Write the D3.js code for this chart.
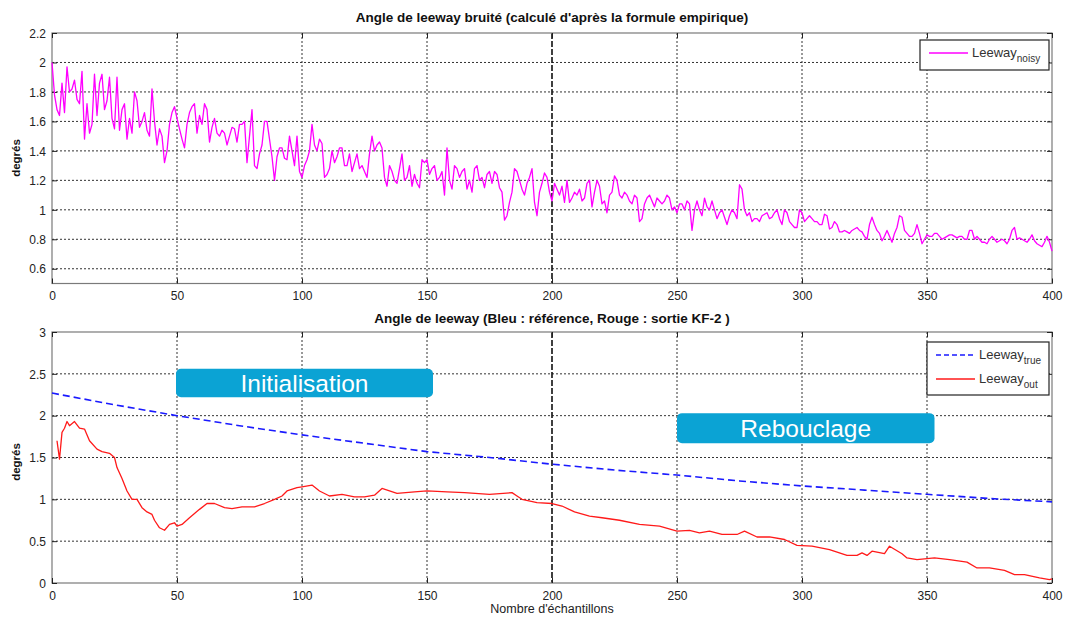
<!DOCTYPE html>
<html><head><meta charset="utf-8">
<script src="https://cdn.jsdelivr.net/npm/d3@7"></script>
<style>
html,body{margin:0;padding:0;background:#fff;}
text{font-family:"Liberation Sans",Arial,sans-serif;}
</style></head>
<body><svg id="c" width="1069" height="618"></svg>
<script>
// ---------- DATA ----------
const xTicks = [0, 50, 100, 150, 200, 250, 300, 350, 400];
const topYTicks = [0.6, 0.8, 1, 1.2, 1.4, 1.6, 1.8, 2, 2.2];
const botYTicks = [0, 0.5, 1, 1.5, 2, 2.5, 3];

// noisy leeway, one value per sample (0..400)
const noisyStep = 1;
const noisyY = [
2.00,1.78,1.68,1.64,1.86,1.66,1.97,1.80,1.82,1.88,1.75,1.72,1.94,1.48,1.72,1.52,1.58,1.92,1.64,1.86,
1.92,1.68,1.74,1.90,1.62,1.55,1.90,1.54,1.68,1.72,1.48,1.62,1.52,1.80,1.74,1.56,1.60,1.66,1.54,1.50,
1.82,1.60,1.44,1.55,1.50,1.32,1.40,1.58,1.66,1.70,1.62,1.55,1.48,1.42,1.58,1.66,1.70,1.72,1.52,1.64,
1.58,1.72,1.68,1.46,1.56,1.62,1.52,1.50,1.54,1.52,1.44,1.50,1.56,1.55,1.46,1.58,1.58,1.60,1.32,1.50,
1.68,1.30,1.28,1.38,1.44,1.60,1.60,1.48,1.36,1.20,1.36,1.42,1.42,1.35,1.34,1.50,1.40,1.30,1.50,1.26,
1.22,1.30,1.34,1.40,1.58,1.44,1.40,1.48,1.45,1.22,1.24,1.28,1.40,1.32,1.36,1.42,1.42,1.30,1.30,1.38,
1.26,1.32,1.38,1.28,1.30,1.26,1.22,1.38,1.50,1.40,1.44,1.46,1.42,1.22,1.16,1.30,1.26,1.20,1.18,1.28,
1.38,1.20,1.22,1.30,1.16,1.24,1.18,1.15,1.34,1.32,1.34,1.24,1.28,1.30,1.20,1.22,1.26,1.10,1.42,1.20,
1.14,1.30,1.28,1.22,1.26,1.28,1.14,1.20,1.12,1.28,1.30,1.20,1.22,1.15,1.24,1.26,1.18,1.26,1.24,1.15,
1.12,0.93,0.96,1.05,1.12,1.28,1.26,1.20,1.14,1.10,1.18,1.22,1.28,1.05,0.96,1.12,1.18,1.25,1.22,1.12,
1.06,1.18,1.14,1.10,1.16,1.05,1.20,1.05,1.08,1.12,1.10,1.14,1.06,1.08,1.18,1.20,1.02,1.12,1.20,1.16,
1.04,1.06,0.98,1.10,1.12,1.23,1.20,1.10,1.08,1.12,1.10,1.06,1.04,1.10,1.08,0.92,0.94,1.04,1.08,1.10,
1.06,1.02,1.08,1.06,1.04,1.06,1.10,1.08,1.00,1.02,0.98,1.04,1.04,1.00,1.06,1.04,0.86,1.00,1.06,1.00,
0.96,1.08,1.02,1.00,1.06,1.00,0.94,0.98,1.00,0.95,0.90,0.96,1.00,0.98,0.94,1.17,1.14,1.00,0.96,0.98,
0.92,0.94,0.94,0.92,0.96,0.97,0.98,0.94,0.95,0.98,1.00,0.94,0.90,1.00,0.98,0.92,0.90,0.88,0.88,1.00,
0.98,0.92,0.94,0.96,0.94,0.92,0.92,0.90,0.90,0.97,0.96,0.87,0.88,0.92,0.90,0.85,0.85,0.86,0.85,0.84,
0.86,0.87,0.88,0.86,0.85,0.82,0.80,0.90,0.95,0.90,0.86,0.84,0.79,0.82,0.86,0.82,0.78,0.84,0.88,0.96,
0.95,0.86,0.84,0.82,0.82,0.84,0.90,0.84,0.77,0.80,0.83,0.82,0.82,0.84,0.84,0.82,0.80,0.81,0.82,0.83,
0.83,0.82,0.81,0.82,0.82,0.80,0.80,0.86,0.86,0.80,0.82,0.80,0.78,0.78,0.77,0.80,0.82,0.80,0.78,0.79,
0.80,0.79,0.77,0.80,0.86,0.88,0.80,0.81,0.80,0.79,0.78,0.80,0.83,0.79,0.77,0.76,0.75,0.78,0.82,0.78,
0.72];

// reference leeway (blue, dashed)
const trueX = [0,25,50,75,100,125,150,175,200,225,250,275,300,325,350,375,400];
const trueY = [2.27,2.13,2.00,1.88,1.77,1.67,1.57,1.50,1.42,1.35,1.29,1.22,1.16,1.11,1.06,1.01,0.97];

// KF-2 output (red)
const outX = [2,3,4,5,6,7,9,11,13,15,18,20,23,25,26,28,30,32,34,36,38,40,41,43,45,47,49,50,52,55,59,62,65,69,72,76,81,85,89,92,94,98,100,104,107,111,116,121,125,129,132,135,138,145,150,158,165,175,184,186,188,194,200,204,209,215,220,227,235,243,250,255,259,263,268,274,277,282,287,293,298,304,311,318,322,324,326,328,333,335,340,342,346,353,359,366,370,375,381,385,389,395,399,400];
const outY = [1.70,1.48,1.80,1.85,1.93,1.88,1.93,1.85,1.84,1.70,1.60,1.57,1.55,1.50,1.38,1.25,1.10,1.00,1.00,0.90,0.85,0.82,0.75,0.66,0.63,0.70,0.72,0.68,0.70,0.78,0.88,0.95,0.95,0.90,0.89,0.91,0.91,0.95,1.00,1.04,1.10,1.14,1.15,1.17,1.10,1.04,1.06,1.03,1.03,1.05,1.13,1.10,1.07,1.09,1.10,1.09,1.08,1.06,1.08,1.04,1.00,0.96,0.95,0.92,0.85,0.80,0.78,0.75,0.70,0.68,0.62,0.63,0.60,0.62,0.58,0.58,0.62,0.55,0.55,0.52,0.45,0.44,0.40,0.33,0.33,0.36,0.33,0.38,0.35,0.44,0.35,0.30,0.28,0.30,0.28,0.25,0.18,0.18,0.15,0.10,0.10,0.06,0.04,0.05];

// annotation boxes (data coordinates of the bottom plot)
const notes = [
  {label:"Initialisation", x0:49.6, x1:152.4, y0:2.56, y1:2.22},
  {label:"Rebouclage", x0:250, x1:353, y0:2.03, y1:1.67}
];

// ---------- DRAW ----------
const svg = d3.select("#c");
const L = 52, R = 1052;
const x = d3.scaleLinear().domain([0,400]).range([L,R]);
const yTop = d3.scaleLinear().domain([0.5,2.2]).range([283.5,33]);
const yBot = d3.scaleLinear().domain([0,3]).range([583,332]);

function panel(y, yTicks, title, titleY, labelY){
  const g = svg.append("g");
  const [b,t] = y.range();
  g.selectAll(".gy").data(yTicks.filter(v=>y(v)>t+1 && y(v)<b-1)).join("line")
    .attr("x1",L).attr("x2",R).attr("y1",d=>y(d)).attr("y2",d=>y(d))
    .attr("stroke","#333").attr("stroke-width",1).attr("stroke-dasharray","2,2");
  g.selectAll(".gx").data(xTicks.filter(v=>v>0&&v<400&&v!==200)).join("line")
    .attr("x1",d=>x(d)).attr("x2",d=>x(d)).attr("y1",t).attr("y2",b)
    .attr("stroke","#333").attr("stroke-width",1).attr("stroke-dasharray","2,2");
  g.append("line").attr("x1",x(200)).attr("x2",x(200)).attr("y1",t).attr("y2",b)
    .attr("stroke","#111").attr("stroke-width",1.6).attr("stroke-dasharray","6,2");
  g.append("rect").attr("x",L).attr("y",t).attr("width",R-L).attr("height",b-t)
    .attr("fill","none").attr("stroke","#7a7a7a").attr("stroke-width",1.2);
  const ax = d3.axisBottom(x).tickValues(xTicks).tickSize(-5).tickFormat(d3.format("d")).tickPadding(8);
  const ay = d3.axisLeft(y).tickValues(yTicks).tickSize(-5).tickFormat(d=>String(d)).tickPadding(6);
  const gx = g.append("g").attr("transform",`translate(0,${b})`).call(ax);
  const gy = g.append("g").attr("transform",`translate(${L},0)`).call(ay);
  const gyr = g.append("g").attr("transform",`translate(${R},0)`).call(d3.axisRight(y).tickValues(yTicks).tickSize(-5).tickFormat(""));
  const gxt = g.append("g").attr("transform",`translate(0,${t})`).call(d3.axisTop(x).tickValues(xTicks).tickSize(-5).tickFormat(""));
  [gx,gy,gyr,gxt].forEach(a=>{
    a.select(".domain").remove();
    a.selectAll(".tick line").attr("stroke","#222");
    a.selectAll("text").attr("font-size",12).attr("fill","#222").attr("font-family","Liberation Sans, Arial, sans-serif");
  });
  gy.selectAll("text").attr("dy","0.35em");
  svg.append("text").attr("x",552).attr("y",titleY).attr("text-anchor","middle")
    .attr("font-size",13.5).attr("font-weight","bold").attr("fill","#111").text(title);
  svg.append("text").attr("transform",`translate(20,${labelY}) rotate(-90)`).attr("text-anchor","middle")
    .attr("font-size",11.5).attr("font-weight","bold").attr("fill","#111").text("degrés");
  return g;
}

const gTop = panel(yTop, topYTicks, "Angle de leeway bruité (calculé d'après la formule empirique)", 22, 158);
const gBot = panel(yBot, botYTicks, "Angle de leeway (Bleu : référence, Rouge : sortie KF-2 )", 323, 462);

const noisy = noisyY.map((v,i)=>[i*noisyStep, v]);
gTop.append("path").datum(noisy)
  .attr("d", d3.line().x(d=>x(d[0])).y(d=>yTop(d[1])))
  .attr("fill","none").attr("stroke","#ff00ff").attr("stroke-width",1.3).attr("stroke-linejoin","round");

gBot.append("path").datum(trueX.map((v,i)=>[v,trueY[i]]))
  .attr("d", d3.line().x(d=>x(d[0])).y(d=>yBot(d[1])))
  .attr("fill","none").attr("stroke","#1a1aff").attr("stroke-width",1.6).attr("stroke-dasharray","7,4");
gBot.append("path").datum(outX.map((v,i)=>[v,outY[i]]))
  .attr("d", d3.line().x(d=>x(d[0])).y(d=>yBot(d[1])))
  .attr("fill","none").attr("stroke","#ff1a1a").attr("stroke-width",1.3).attr("stroke-linejoin","round");

svg.append("text").attr("x",552).attr("y",613).attr("text-anchor","middle")
  .attr("font-size",12.5).attr("fill","#222").text("Nombre d'échantillons");

notes.forEach(n=>{
  svg.append("rect").attr("x",x(n.x0)).attr("y",yBot(n.y0))
    .attr("width",x(n.x1)-x(n.x0)).attr("height",yBot(n.y1)-yBot(n.y0))
    .attr("rx",5).attr("fill","#0ba3d4");
  svg.append("text").attr("x",(x(n.x0)+x(n.x1))/2).attr("y",(yBot(n.y0)+yBot(n.y1))/2)
    .attr("dy","0.36em").attr("text-anchor","middle").attr("font-size",24.5).attr("fill","#fff")
    .text(n.label);
});

function legend(x0,y0,w,h,items){
  const g = svg.append("g");
  g.append("rect").attr("x",x0).attr("y",y0).attr("width",w).attr("height",h)
    .attr("fill","#fff").attr("stroke","#222").attr("stroke-width",1.2);
  items.forEach((it,i)=>{
    const yy = y0 + 13 + i*24;
    g.append("line").attr("x1",x0+9).attr("x2",x0+48).attr("y1",yy).attr("y2",yy)
      .attr("stroke",it.color).attr("stroke-width",1.5).attr("stroke-dasharray",it.dash||null);
    const t = g.append("text").attr("x",x0+52).attr("y",yy+4).attr("font-size",13).attr("fill","#333");
    t.append("tspan").text("Leeway");
    t.append("tspan").attr("dy",5).attr("font-size",10).text(it.sub);
  });
}
legend(920,40,129,30,[{color:"#ff00ff",sub:"noisy"}]);
legend(927,342,122,53,[{color:"#1a1aff",sub:"true",dash:"5,3"},{color:"#ff1a1a",sub:"out"}]);
</script></body></html>
